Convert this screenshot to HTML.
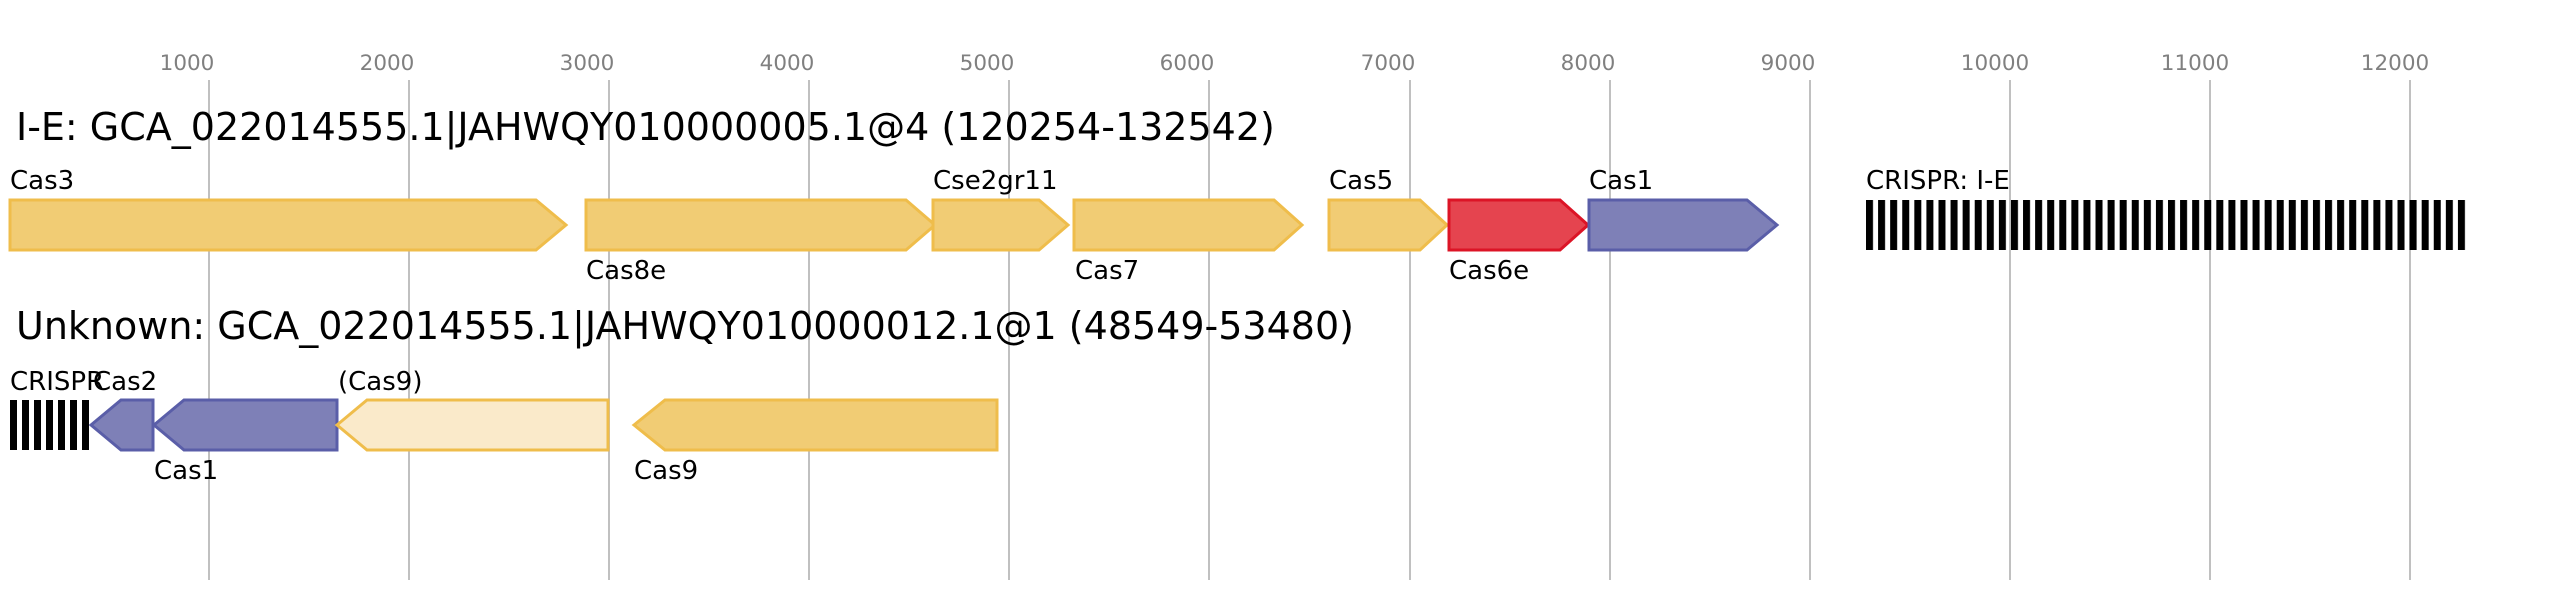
<!DOCTYPE html>
<html><head><meta charset="utf-8"><style>
html,body{margin:0;padding:0;background:#fff;}
svg{display:block;font-family:"DejaVu Sans","Liberation Sans",sans-serif;}
</style></head><body>
<svg width="2558" height="600" viewBox="0 0 2558 600" xmlns="http://www.w3.org/2000/svg">
<defs>
<pattern id="cr" x="1866" y="0" width="12.08" height="10" patternUnits="userSpaceOnUse">
<rect x="0" y="0" width="7" height="10" fill="#000"/>
</pattern>
<pattern id="cr2" x="10" y="0" width="12" height="10" patternUnits="userSpaceOnUse">
<rect x="0" y="0" width="7" height="10" fill="#000"/>
</pattern>
</defs>
<g stroke="#c0c0c0" stroke-width="2">
<line x1="209" y1="80" x2="209" y2="580"/>
<line x1="409" y1="80" x2="409" y2="580"/>
<line x1="609" y1="80" x2="609" y2="580"/>
<line x1="809" y1="80" x2="809" y2="580"/>
<line x1="1009" y1="80" x2="1009" y2="580"/>
<line x1="1209" y1="80" x2="1209" y2="580"/>
<line x1="1410" y1="80" x2="1410" y2="580"/>
<line x1="1610" y1="80" x2="1610" y2="580"/>
<line x1="1810" y1="80" x2="1810" y2="580"/>
<line x1="2010" y1="80" x2="2010" y2="580"/>
<line x1="2210" y1="80" x2="2210" y2="580"/>
<line x1="2410" y1="80" x2="2410" y2="580"/>
</g>
<g fill="#808080" font-size="21.5" text-anchor="middle">
<text x="187" y="70">1000</text>
<text x="387" y="70">2000</text>
<text x="587" y="70">3000</text>
<text x="787" y="70">4000</text>
<text x="987" y="70">5000</text>
<text x="1187" y="70">6000</text>
<text x="1388" y="70">7000</text>
<text x="1588" y="70">8000</text>
<text x="1788" y="70">9000</text>
<text x="1995" y="70">10000</text>
<text x="2195" y="70">11000</text>
<text x="2395" y="70">12000</text>
</g>
<text x="16" y="140" font-size="38" fill="#000">I-E: GCA_022014555.1|JAHWQY010000005.1@4 (120254-132542)</text>
<text x="16" y="339" font-size="38" fill="#000">Unknown: GCA_022014555.1|JAHWQY010000012.1@1 (48549-53480)</text>
<g stroke-width="3" stroke-linejoin="miter">
<polygon points="10,200 536,200 566,225 536,250 10,250" fill="#f1cc74" stroke="#efbd4b"/>
<polygon points="586,200 906,200 935,225 906,250 586,250" fill="#f1cc74" stroke="#efbd4b"/>
<polygon points="933,200 1039,200 1068,225 1039,250 933,250" fill="#f1cc74" stroke="#efbd4b"/>
<polygon points="1074,200 1274,200 1302,225 1274,250 1074,250" fill="#f1cc74" stroke="#efbd4b"/>
<polygon points="1329,200 1420,200 1447,225 1420,250 1329,250" fill="#f1cc74" stroke="#efbd4b"/>
<polygon points="1449,200 1560,200 1588,225 1560,250 1449,250" fill="#e5444f" stroke="#dc1426"/>
<polygon points="1589,200 1747,200 1777,225 1747,250 1589,250" fill="#7e80b7" stroke="#5a5ea8"/>
<polygon points="91,425 121,400 153,400 153,450 121,450" fill="#7e80b7" stroke="#5a5ea8"/>
<polygon points="154,425 184,400 337,400 337,450 184,450" fill="#7e80b7" stroke="#5a5ea8"/>
<polygon points="337,425 367,400 608,400 608,450 367,450" fill="#faeaca" stroke="#efbd4b"/>
<polygon points="634,425 665,400 997,400 997,450 665,450" fill="#f1cc74" stroke="#efbd4b"/>
</g>
<rect x="1866" y="200" width="604" height="50" fill="url(#cr)"/>
<rect x="10" y="400" width="79" height="50" fill="url(#cr2)"/>
<g font-size="26" fill="#000">
<text x="10" y="189">Cas3</text>
<text x="586" y="279">Cas8e</text>
<text x="933" y="189">Cse2gr11</text>
<text x="1075" y="279">Cas7</text>
<text x="1329" y="189">Cas5</text>
<text x="1449" y="279">Cas6e</text>
<text x="1589" y="189">Cas1</text>
<text x="1866" y="189">CRISPR: I-E</text>
<text x="10" y="390">CRISPR</text>
<text x="93" y="390">Cas2</text>
<text x="154" y="479">Cas1</text>
<text x="338" y="390">(Cas9)</text>
<text x="634" y="479">Cas9</text>
</g>
</svg>
</body></html>
